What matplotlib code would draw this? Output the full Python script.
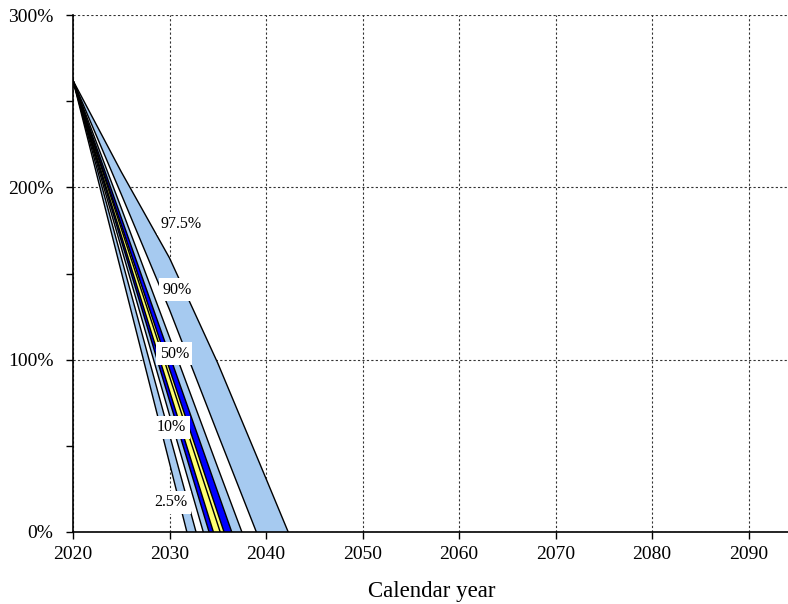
import matplotlib
matplotlib.use("Agg")
import matplotlib.pyplot as plt
from matplotlib.ticker import MultipleLocator, FuncFormatter

# ---- data ----
percentiles = [2.5, 10, 20, 30, 40, 50, 60, 70, 80, 90, 97.5]
start_year = 2020
start_value = 262.0
value_2025 = [151.0, 159.3, 165.0, 169.1, 172.0, 176.1, 178.3, 182.4, 188.0, 196.0, 209.0]
value_2030 = [40.0, 56.5, 67.9, 76.2, 81.9, 90.2, 94.6, 102.7, 113.0, 129.0, 159.0]
value_2035 = [None, None, None, None, None, 4.3, 10.9, 23.1, 37.4, 57.0, 98.0]
value_2040 = [None, None, None, None, None, None, None, None, None, None, 31.0]
depletion_year = [2031.8, 2032.75, 2033.5, 2034.1, 2034.55, 2035.25, 2035.65,
                  2036.45, 2037.5, 2039.0, 2042.3]
band_colors = ["#A6CAF0", "#FFFFFF", "#A6CAF0", "#0000FF", "#FFFF70",
               "#FFFF70", "#0000FF", "#A6CAF0", "#FFFFFF", "#A6CAF0"]
label_text = ["2.5%", "10%", "50%", "90%", "97.5%"]
label_year = [2030.1, 2030.2, 2030.5, 2030.8, 2031.2]
label_value = [17.4, 60.9, 103.3, 140.5, 178.8]
xticks = [2020, 2030, 2040, 2050, 2060, 2070, 2080, 2090]
yticks = [0, 100, 200, 300]

plt.rcParams['font.family'] = ['Liberation Serif', 'DejaVu Serif']

fig = plt.figure(figsize=(7.88, 6.04), dpi=100)
ax = fig.add_axes([73 / 788, 1 - 532 / 604, 718 / 788, (532 - 15) / 604])


def line_points(i):
    xs = [start_year, 2025, 2030]
    ys = [start_value, value_2025[i], value_2030[i]]
    if value_2035[i] is not None:
        xs.append(2035)
        ys.append(value_2035[i])
    if value_2040[i] is not None:
        xs.append(2040)
        ys.append(value_2040[i])
    xs.append(depletion_year[i])
    ys.append(0.0)
    return xs, ys


lines = [line_points(i) for i in range(len(percentiles))]

for i in range(len(percentiles) - 1):
    x0, y0 = lines[i]
    x1, y1 = lines[i + 1]
    px = x0 + x1[::-1]
    py = y0 + y1[::-1]
    ax.fill(px, py, color=band_colors[i], lw=0, zorder=2)

for xs, ys in lines:
    ax.plot(xs, ys, color="black", lw=1.0, zorder=3, solid_joinstyle="miter")

for t, xv, yv in zip(label_text, label_year, label_value):
    ax.text(xv, yv, t, ha="center", va="center", fontsize=11.5, zorder=5,
            bbox=dict(facecolor="white", edgecolor="none", pad=2.5))

ax.set_xlim(2020, 2094.4)
ax.set_ylim(0, 300)
ax.set_xticks(xticks)
ax.set_yticks(yticks)
ax.yaxis.set_minor_locator(MultipleLocator(50))
ax.yaxis.set_major_formatter(FuncFormatter(lambda v, p: f"{int(v)}%"))
ax.tick_params(axis="both", which="both", direction="out", length=5, width=1,
               labelsize=14, color="black")
ax.tick_params(axis="x", pad=5)
ax.tick_params(axis="y", pad=9)
ax.tick_params(axis="x", which="minor", bottom=False)

for s in ["top", "right"]:
    ax.spines[s].set_visible(False)
for s in ["left", "bottom"]:
    ax.spines[s].set_linewidth(1.2)
    ax.spines[s].set_zorder(6)

ax.grid(True, which="major", color="#333333", linestyle=(0, (2, 2)), lw=0.8, zorder=1)
ax.set_axisbelow(True)

ax.set_xlabel("Calendar year", fontsize=16.5, labelpad=13)

fig.savefig("out.png", dpi=100)
